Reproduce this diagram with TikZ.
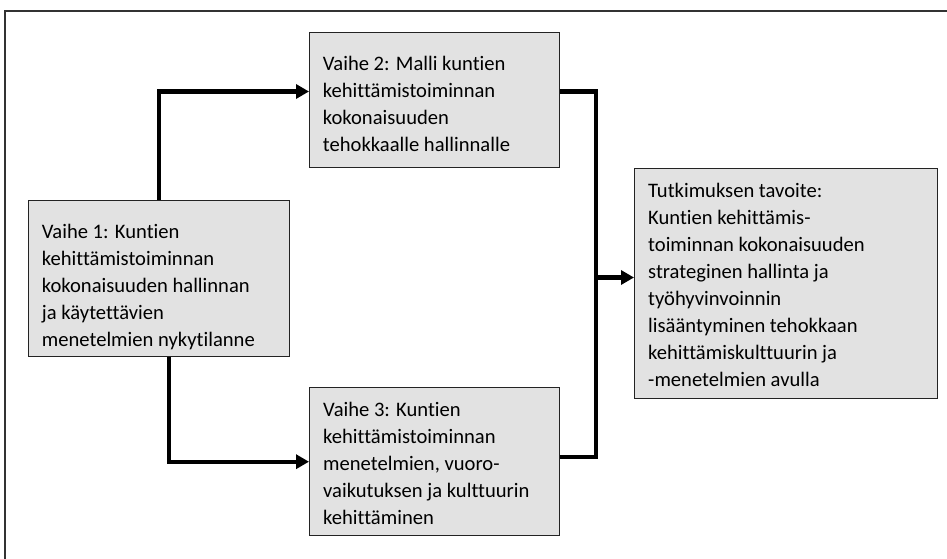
\documentclass[tikz,border=0pt]{standalone}
\usepackage{fontspec}
\setmainfont{Carlito}[Ligatures=NoCommon]
\usetikzlibrary{arrows.meta}
\definecolor{boxfill}{RGB}{226,226,226}
\definecolor{boxline}{RGB}{35,35,35}
\definecolor{framecol}{RGB}{50,50,50}
\begin{document}
\begin{tikzpicture}[x=1pt,y=-1pt,
  stagebox/.style={draw=boxline,fill=boxfill,line width=1.3pt,rectangle,
    inner sep=0pt,anchor=north west},
  stagetext/.style={anchor=north west,inner sep=0pt,align=left,
    font=\fontsize{20.6}{27}\selectfont},
  conn/.style={line width=4.2pt,line join=miter,line cap=butt},
  tip/.style={-{Triangle[length=13pt,width=14pt]}}]
\useasboundingbox (0,0) rectangle (947,559);
% outer frame (top and left edges)
\draw[framecol,line width=1.3pt] (5,559) -- (5,11) -- (947,11);
% boxes
\node[stagebox,minimum width=261pt,minimum height=156pt] (b1) at (28,200) {};
\node[stagebox,minimum width=250pt,minimum height=135pt] (b2) at (309,32) {};
\node[stagebox,minimum width=250pt,minimum height=148pt] (b3) at (309,387) {};
\node[stagebox,minimum width=303pt,minimum height=230pt] (b4) at (634,168) {};
% texts
\node[stagetext] (t1) at (41.7,219.1) {\strut Vaihe 1: Kuntien\\kehittämistoiminnan\\kokonaisuuden hallinnan\\ja käytettävien\\menetelmien nykytilanne};
\node[stagetext] (t2) at (322.7,51.1) {\strut Vaihe 2: Malli kuntien\\kehittämistoiminnan\\kokonaisuuden\\tehokkaalle hallinnalle};
\node[stagetext] (t3) at (323,397.1) {\strut Vaihe 3: Kuntien\\kehittämistoiminnan\\menetelmien, vuoro-\\vaikutuksen ja kulttuurin\\kehittäminen};
\node[stagetext] (t4) at (648,178.1) {\strut Tutkimuksen tavoite:\\Kuntien kehittämis-\\toiminnan kokonaisuuden\\strateginen hallinta ja\\työhyvinvoinnin\\lisääntyminen tehokkaan\\kehittämiskulttuurin ja\\-menetelmien avulla};
% routing points
\coordinate (ya) at (0,91.5);
\coordinate (yb) at (169,461.7);
\coordinate (jt) at (596.3,91.5);
\coordinate (jm) at (596.3,277.5);
\coordinate (jb) at (596.3,457);
% connectors
\draw[conn,tip] (b1.north) |- (b2.west |- ya);
\draw[conn,tip] (b1.south -| yb) -- (yb) -- (b3.west |- yb);
\draw[conn] (b2.east |- jt) -- (jt) -- (jb) -- (b3.east |- jb);
\draw[conn,tip] (jm) -- (b4.west |- jm);
\end{tikzpicture}
\end{document}
